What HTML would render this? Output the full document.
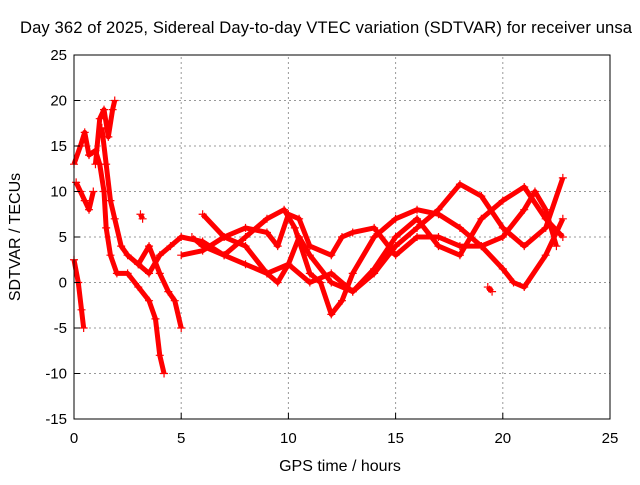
<!DOCTYPE html>
<html><head><meta charset="utf-8"><style>
body{margin:0;background:#fff;}
svg text{font-family:"Liberation Sans",sans-serif;font-size:15px;fill:#000;}
</style></head><body>
<svg width="640" height="480">
<rect width="640" height="480" fill="#fff"/>
<g id="grid"></g>
<g id="series"></g>
<rect x="74" y="55" width="536" height="364" fill="none" stroke="#000" stroke-width="1"/>
<g id="axes"></g>
<text x="326" y="33" text-anchor="middle" style="font-size:16.6px" textLength="612">Day 362 of 2025, Sidereal Day-to-day VTEC variation (SDTVAR) for receiver unsa</text>
<text x="340" y="471" text-anchor="middle" style="font-size:16px">GPS time / hours</text>
<text transform="translate(20,237) rotate(-90)" text-anchor="middle" style="font-size:16px">SDTVAR / TECUs</text>
</svg>
<script>
const xTicks=[0,5,10,15,20,25];
const yTicks=[-15,-10,-5,0,5,10,15,20,25];
const seriesA=[[0,13],[0.3,15],[0.5,16.5],[0.7,14],[1,14.5],[1.2,13],[1.4,10],[1.5,6],[1.7,3],[2,1],[2.5,1],[3,-0.5],[3.5,-2],[3.8,-4],[4,-8],[4.2,-10]];
const seriesB=[[0,2.5],[0.2,0],[0.35,-3],[0.45,-5]];
const seriesC=[[0.1,11],[0.3,10],[0.5,9],[0.7,8],[0.9,10]];
const seriesD=[[1,13],[1.2,18],[1.4,19],[1.6,16],[1.8,19],[1.9,20]];
const seriesE=[[1.3,17],[1.5,13],[1.7,9],[1.9,7],[2.2,4],[2.5,3],[3,2],[3.5,4],[4,1],[4.4,-1],[4.7,-2],[5,-5]];
const seriesF=[[3,2],[3.5,1],[4,3],[4.5,4],[5,5],[6,4.5],[7,3],[8,5],[9,7],[9.8,8],[10.3,6],[11,1],[11.5,0],[12,-3.5],[12.5,-2],[13,1],[14,5],[15,7],[16,8],[17,7.5],[18,6],[19,4],[20,1.5],[20.5,0],[21,-0.5],[22,3],[22.8,7]];
const seriesG=[[5,3],[6,3.5],[7,5],[8,4],[9,1],[9.5,0],[10,2],[10.5,5],[11,3],[12,0],[13,-1],[14,1],[15,4],[16,6],[17,8],[18,10.8],[19,9.5],[20,6],[21,4],[22,6],[22.8,11.5]];
const seriesH=[[6,7.5],[7,5],[8,6],[9,5.5],[9.5,4],[10,7.5],[10.5,7],[11,4],[12,3],[12.5,5],[13,5.5],[14,6],[15,3],[16,5],[17,5],[18,4],[19,4],[20,5],[21,8],[21.5,10],[22,8],[22.5,4]];
const seriesI=[[5.5,5],[6,4],[7,3],[8,2],[9,1],[10,2],[11,0],[12,1],[13,-1],[14,1.5],[15,5],[16,7],[17,4],[18,3],[19,7],[20,9],[21,10.5],[22,7],[22.8,5]];
const seriesJ=[[19.3,-0.5],[19.5,-1]];
const seriesK=[[3.1,7.5],[3.2,7]];
const allSeries=[seriesA,seriesB,seriesC,seriesD,seriesE,seriesF,seriesG,seriesH,seriesI,seriesJ,seriesK];
const X0=74,X1=610,Y0=419,Y1=55;
const xs=v=>X0+(v-0)/25*(X1-X0);
const ys=v=>Y0-(v+15)/40*(Y0-Y1);
const NS="http://www.w3.org/2000/svg";
const grid=document.getElementById('grid'),axes=document.getElementById('axes'),ser=document.getElementById('series');
function mk(tag,attrs,parent){const e=document.createElementNS(NS,tag);for(const k in attrs)e.setAttribute(k,attrs[k]);parent.appendChild(e);return e;}
xTicks.forEach(t=>{const x=xs(t);
 if(t>0&&t<25){const g=mk('line',{x1:x,x2:x,y1:Y0,y2:Y1,stroke:'#999','stroke-dasharray':'2,3'},grid);
 
 }
 const tk=mk('line',{x1:x,x2:x,y1:Y0,y2:Y0-6,stroke:'#000'},axes);
 
 
 const tx=mk('text',{x:x,y:Y0+24,'text-anchor':'middle'},axes);tx.textContent=t;
 
 
});
yTicks.forEach(t=>{const y=ys(t);
 if(t>-15&&t<25){const g=mk('line',{x1:X0,x2:X1,y1:y,y2:y,stroke:'#999','stroke-dasharray':'2,3'},grid);
 
 }
 const tk=mk('line',{x1:X0,x2:X0+6,y1:y,y2:y,stroke:'#000'},axes);
 
 
 const tx=mk('text',{x:X0-7,y:y+5,'text-anchor':'end'},axes);tx.textContent=t;
 
 
});
allSeries.forEach((s,i)=>{
 const g=mk('g',{},ser);
 
 
 const pl=mk('polyline',{points:s.map(p=>xs(p[0])+','+ys(p[1])).join(' '),fill:'none',stroke:'#f00','stroke-width':5,'stroke-linejoin':'round'},g);
 
 
 s.forEach(p=>{const x=xs(p[0]),y=ys(p[1]);
  const m=mk('path',{d:`M${x-4},${y}h8M${x},${y-4}v8`,stroke:'#f00','stroke-width':1.2},g);
  
  
 });
});
</script>
</body></html>
